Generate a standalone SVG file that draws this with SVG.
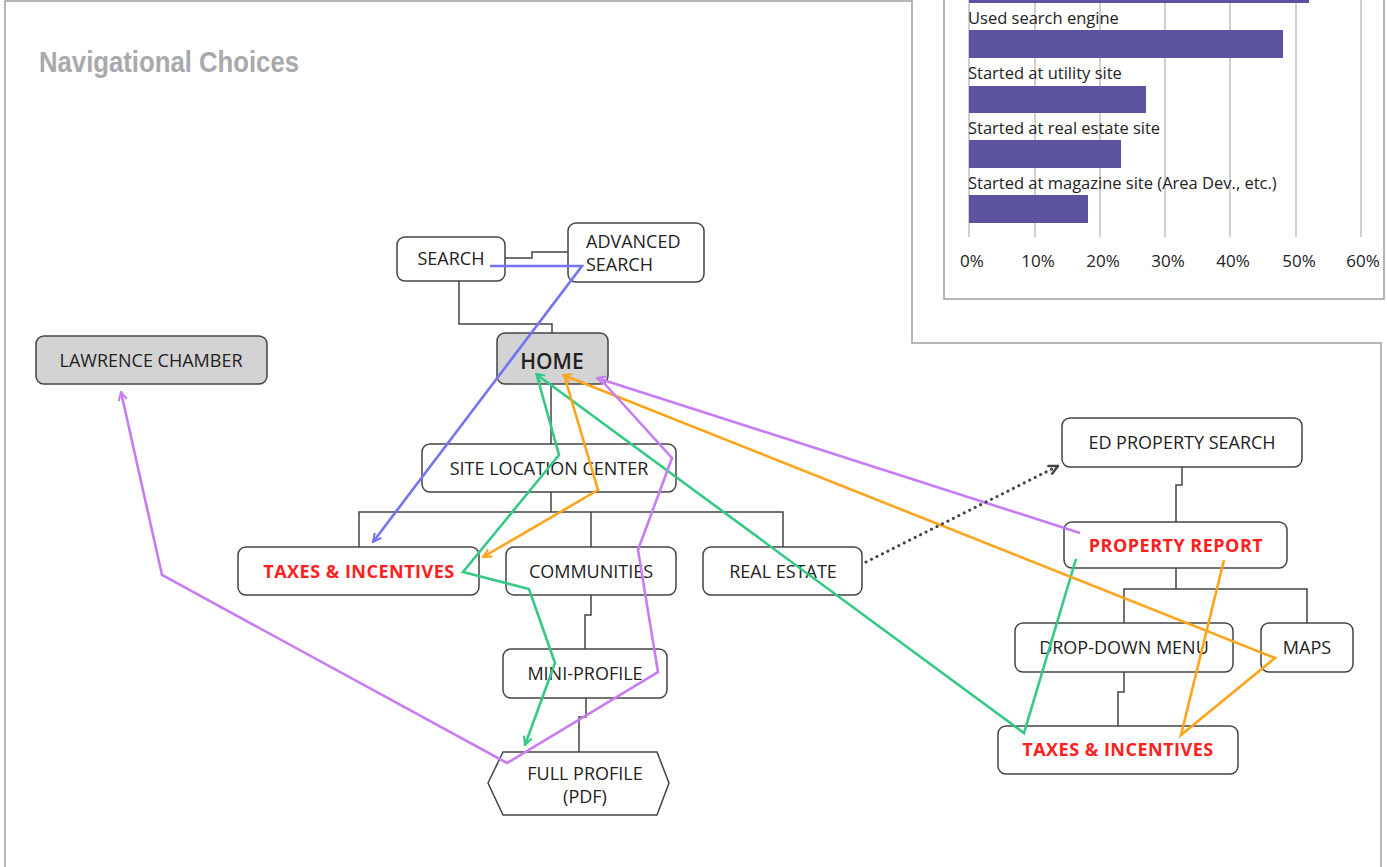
<svg xmlns="http://www.w3.org/2000/svg" width="1387" height="867" viewBox="0 0 1387 867">
<style>
.frame{fill:none;stroke:#a0a0a0;stroke-width:1.5}
.node rect,.node polygon{fill:#fff;stroke:#444;stroke-width:1.5}
.gray rect{fill:#d3d3d3}
.t{font-family:"Open Sans","Noto Sans",sans-serif;font-size:18px;fill:#222;text-anchor:middle}
.red{fill:#ff2020;font-weight:bold;letter-spacing:0.5px}
.tree{fill:none;stroke:#444;stroke-width:1.5}
.c{fill:none;stroke-width:2.6;stroke-linejoin:miter}
.grid{stroke:#b0b0b0;stroke-width:1.2}
.bar{fill:#5b52a0}
.cl{font-family:"Open Sans","Noto Sans",sans-serif;font-size:16.5px;fill:#222}
.ax{font-family:"Open Sans","Noto Sans",sans-serif;font-size:17px;fill:#222;text-anchor:middle}
</style>
<defs>
<marker id="mb" viewBox="0 0 10 10" refX="9" refY="5" markerWidth="4" markerHeight="4" orient="auto" markerUnits="strokeWidth"><path d="M1,1 L9,5 L1,9" fill="none" stroke="#7474f2" stroke-width="2"/></marker>
<marker id="mg" viewBox="0 0 10 10" refX="9" refY="5" markerWidth="4" markerHeight="4" orient="auto" markerUnits="strokeWidth"><path d="M1,1 L9,5 L1,9" fill="none" stroke="#35c985" stroke-width="2"/></marker>
<marker id="mo" viewBox="0 0 10 10" refX="9" refY="5" markerWidth="4" markerHeight="4" orient="auto" markerUnits="strokeWidth"><path d="M1,1 L9,5 L1,9" fill="none" stroke="#ffa41c" stroke-width="2"/></marker>
<marker id="mp" viewBox="0 0 10 10" refX="9" refY="5" markerWidth="4" markerHeight="4" orient="auto" markerUnits="strokeWidth"><path d="M1,1 L9,5 L1,9" fill="none" stroke="#c77cf6" stroke-width="2"/></marker>
<marker id="md" viewBox="0 0 10 10" refX="9" refY="5" markerWidth="4" markerHeight="4" orient="auto" markerUnits="strokeWidth"><path d="M1,1 L9,5 L1,9" fill="none" stroke="#444" stroke-width="2"/></marker>
</defs>
<rect width="1387" height="867" fill="#fff"/>
<!-- frames -->
<path class="frame" d="M5,867 L5,1 L912,1 L912,343 L1381,343 L1381,867"/>
<path class="frame" d="M944,0 L944,299 L1384,299 L1384,0"/>
<!-- chart -->
<g id="chart">
<line class="grid" x1="969" y1="0" x2="969" y2="237"/>
<line class="grid" x1="1035" y1="0" x2="1035" y2="237"/>
<line class="grid" x1="1100" y1="0" x2="1100" y2="237"/>
<line class="grid" x1="1165" y1="0" x2="1165" y2="237"/>
<line class="grid" x1="1230" y1="0" x2="1230" y2="237"/>
<line class="grid" x1="1296" y1="0" x2="1296" y2="237"/>
<line class="grid" x1="1361" y1="0" x2="1361" y2="237"/>
<rect class="bar" x="969" y="0" width="340" height="3"/>
<rect class="bar" x="969" y="30" width="314" height="28"/>
<rect class="bar" x="969" y="86" width="177" height="27"/>
<rect class="bar" x="969" y="140" width="152" height="28"/>
<rect class="bar" x="969" y="195" width="119" height="28"/>
<text class="cl" x="968" y="24">Used search engine</text>
<text class="cl" x="968" y="79">Started at utility site</text>
<text class="cl" x="968" y="134">Started at real estate site</text>
<text class="cl" x="968" y="189">Started at magazine site (Area Dev., etc.)</text>
<text class="ax" x="972" y="267">0%</text>
<text class="ax" x="1038" y="267">10%</text>
<text class="ax" x="1103" y="267">20%</text>
<text class="ax" x="1168" y="267">30%</text>
<text class="ax" x="1233" y="267">40%</text>
<text class="ax" x="1299" y="267">50%</text>
<text class="ax" x="1363" y="267">60%</text>
</g>
<text x="39" y="72" font-family="Liberation Sans, sans-serif" font-weight="bold" font-size="29" fill="#a7a9ac" textLength="260" lengthAdjust="spacingAndGlyphs">Navigational Choices</text>
<!-- tree connectors -->
<g id="tree">
<path class="tree" d="M505,258 L532,258 L532,252 L568,252"/>
<path class="tree" d="M459,281 L459,324 L552,324 L552,333"/>
<path class="tree" d="M551,384 L551,444"/>
<path class="tree" d="M551,492 L551,512 M359,547 L359,512 L783,512 L783,547 M591,512 L591,547"/>
<path class="tree" d="M591,595 L591,615 L585,615 L585,649"/>
<path class="tree" d="M586,698 L586,717 L579,717 L579,752"/>
<path class="tree" d="M1182,467 L1182,485 L1176,485 L1176,522"/>
<path class="tree" d="M1176,568 L1176,589 M1124,623 L1124,589 L1307,589 L1307,623"/>
<path class="tree" d="M1124,672 L1124,692 L1118,692 L1118,726"/>
</g>
<!-- nodes -->
<g id="search" class="node"><rect x="397" y="237" width="108" height="44" rx="8"/><text class="t" x="451" y="265">SEARCH</text></g>
<g id="advanced-search" class="node"><rect x="568" y="223" width="136" height="59" rx="8"/><text class="t" x="586" y="248" style="text-anchor:start">ADVANCED</text><text class="t" x="586" y="271" style="text-anchor:start">SEARCH</text></g>
<g id="home" class="node gray"><rect x="497" y="333" width="111" height="51" rx="8"/><text class="t" x="552" y="369" style="font-size:21px;font-weight:600">HOME</text></g>
<g id="lawrence-chamber" class="node gray"><rect x="36" y="336" width="231" height="48" rx="8"/><text class="t" x="151" y="367">LAWRENCE CHAMBER</text></g>
<g id="site-location-center" class="node"><rect x="422" y="444" width="254" height="48" rx="8"/><text class="t" x="549" y="475">SITE LOCATION CENTER</text></g>
<g id="taxes-left" class="node"><rect x="238" y="547" width="241" height="48" rx="8"/><text class="t red" x="359" y="578">TAXES &amp; INCENTIVES</text></g>
<g id="communities" class="node"><rect x="506" y="547" width="170" height="48" rx="8"/><text class="t" x="591" y="578">COMMUNITIES</text></g>
<g id="real-estate" class="node"><rect x="703" y="547" width="159" height="48" rx="8"/><text class="t" x="783" y="578">REAL ESTATE</text></g>
<g id="mini-profile" class="node"><rect x="503" y="649" width="164" height="49" rx="8"/><text class="t" x="585" y="680">MINI-PROFILE</text></g>
<g id="full-profile" class="node"><polygon points="503,752 657,752 669,783 657,815 503,815 488,783"/><text class="t" x="585" y="780">FULL PROFILE</text><text class="t" x="585" y="803">(PDF)</text></g>
<g id="ed-property-search" class="node"><rect x="1062" y="418" width="240" height="49" rx="8"/><text class="t" x="1182" y="449">ED PROPERTY SEARCH</text></g>
<g id="property-report" class="node"><rect x="1064" y="522" width="223" height="46" rx="8"/><text class="t red" x="1176" y="552">PROPERTY REPORT</text></g>
<g id="drop-down-menu" class="node"><rect x="1015" y="623" width="218" height="49" rx="8"/><text class="t" x="1124" y="654">DROP-DOWN MENU</text></g>
<g id="maps" class="node"><rect x="1261" y="623" width="92" height="49" rx="8"/><text class="t" x="1307" y="654">MAPS</text></g>
<g id="taxes-right" class="node"><rect x="998" y="726" width="240" height="48" rx="8"/><text class="t red" x="1118" y="756">TAXES &amp; INCENTIVES</text></g>
<!-- paths -->
<g id="connectors">
<path class="c" stroke="#7474f2" d="M490,266 L582,266 L373,542" marker-end="url(#mb)"/>
<path class="c" stroke="#35c985" d="M1076,559 L1024,733 L536,374" marker-end="url(#mg)"/>
<path class="c" stroke="#35c985" d="M537,376 L559,455 L463,572 L529,589 L555,663 L525,745" marker-end="url(#mg)"/>
<path class="c" stroke="#ffa41c" d="M1224,560 L1181,735 L1275,658 L563,375" marker-end="url(#mo)"/>
<path class="c" stroke="#ffa41c" d="M565,378 L598,490 L483,557" marker-end="url(#mo)"/>
<path class="c" stroke="#c77cf6" d="M1080,533 L597,378" marker-end="url(#mp)"/>
<path class="c" stroke="#c77cf6" d="M603,382 L672,458 L638,550 L658,672 L507,763 L162,575 L121,392" marker-end="url(#mp)"/>
<path fill="none" stroke="#444" stroke-width="3" stroke-dasharray="0.1 6" stroke-linecap="round" d="M866,562 L1058,466" marker-end="url(#md)"/>
</g>
</svg>
